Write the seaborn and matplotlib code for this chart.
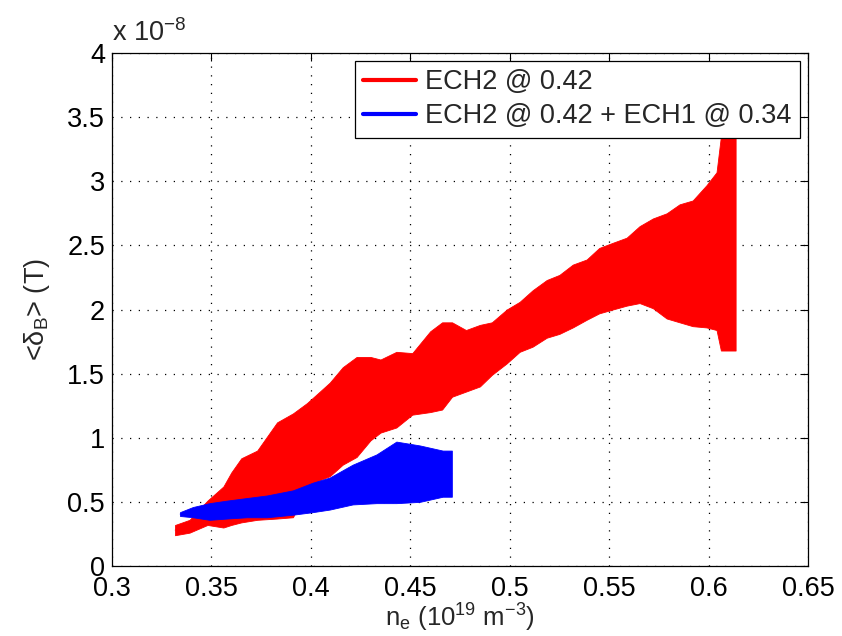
import numpy as np
import pandas as pd
import matplotlib
matplotlib.use("Agg")
import matplotlib.pyplot as plt
import seaborn as sns
from matplotlib.ticker import FuncFormatter

# ---- data (y in units of 1e-8 T) ----
red_label = "ECH2 @ 0.42"
red_x = [0.3317, 0.339, 0.348, 0.356, 0.360, 0.365, 0.373, 0.383, 0.391, 0.398,
         0.4045, 0.4095, 0.416, 0.423, 0.430, 0.435, 0.443, 0.451, 0.460, 0.466,
         0.471, 0.478, 0.485, 0.491, 0.4985, 0.505, 0.5115, 0.5186, 0.525, 0.5317,
         0.5387, 0.545, 0.5518, 0.5588, 0.5653, 0.572, 0.5789, 0.5854, 0.592, 0.599,
         0.604, 0.6062, 0.6136]
red_hi = [0.32, 0.36, 0.51, 0.62, 0.73, 0.84, 0.90, 1.12, 1.19, 1.27,
          1.36, 1.43, 1.55, 1.63, 1.63, 1.61, 1.67, 1.66, 1.83, 1.90,
          1.90, 1.84, 1.88, 1.90, 2.00, 2.06, 2.15, 2.23, 2.27, 2.35,
          2.39, 2.48, 2.52, 2.56, 2.65, 2.71, 2.75, 2.82, 2.85, 2.97,
          3.07, 3.35, 3.35]
red_lo = [0.24, 0.26, 0.32, 0.30, 0.32, 0.34, 0.36, 0.37, 0.38, 0.59,
          0.67, 0.70, 0.79, 0.85, 0.98, 1.04, 1.08, 1.18, 1.20, 1.22,
          1.32, 1.36, 1.40, 1.49, 1.58, 1.67, 1.71, 1.78, 1.81, 1.86,
          1.92, 1.97, 2.00, 2.03, 2.05, 2.01, 1.93, 1.90, 1.87, 1.86,
          1.84, 1.68, 1.68]

blue_label = "ECH2 @ 0.42 + ECH1 @ 0.34"
blue_x = [0.3342, 0.3407, 0.349, 0.3578, 0.3678, 0.3779, 0.391, 0.401, 0.4095,
          0.421, 0.433, 0.443, 0.4548, 0.4663, 0.4709]
blue_hi = [0.42, 0.46, 0.49, 0.51, 0.53, 0.55, 0.59, 0.65, 0.69,
           0.79, 0.87, 0.97, 0.94, 0.90, 0.90]
blue_lo = [0.39, 0.38, 0.36, 0.37, 0.38, 0.38, 0.40, 0.42, 0.44,
           0.48, 0.49, 0.49, 0.50, 0.54, 0.54]

x_ticks = [0.3, 0.35, 0.4, 0.45, 0.5, 0.55, 0.6, 0.65]
y_ticks = [0, 0.5, 1, 1.5, 2, 2.5, 3, 3.5, 4]

# ---- style ----
sns.set_style("white")
plt.rcParams["font.family"] = ["Liberation Sans", "DejaVu Sans"]
plt.rcParams["mathtext.fontset"] = "custom"
plt.rcParams["mathtext.rm"] = "Liberation Sans"
plt.rcParams["mathtext.it"] = "Liberation Sans"
plt.rcParams["mathtext.default"] = "regular"
FS = 19.5

fig = plt.figure(figsize=(8.42, 6.36), dpi=100)
ax = fig.add_axes([112/842, 70/636, 696/842, 513/636])

rows = []
for name, xs, lo, hi in [(red_label, red_x, red_lo, red_hi),
                         (blue_label, blue_x, blue_lo, blue_hi)]:
    for xv, l, h in zip(xs, lo, hi):
        rows.append({"series": name, "x": xv, "lo": l, "hi": h, "mid": (l + h) / 2})
df = pd.DataFrame(rows)

palette = {red_label: "#ff0000", blue_label: "#0000ff"}
for name in [red_label, blue_label]:
    d = df[df.series == name]
    ax.fill_between(d.x, d.lo, d.hi, color=palette[name], lw=0.6,
                    edgecolor=palette[name], zorder=2)

sns.lineplot(data=df, x="x", y="mid", hue="series", palette=palette,
             linewidth=0.5, ax=ax, legend=True, zorder=1, estimator=None, sort=False)

ax.set_xlim(0.3, 0.65)
ax.set_ylim(0, 4)
ax.set_xticks(x_ticks)
ax.set_yticks(y_ticks)
ax.xaxis.set_major_formatter(FuncFormatter(lambda v, p: f"{v:g}"))
ax.yaxis.set_major_formatter(FuncFormatter(lambda v, p: f"{v:g}"))
ax.tick_params(direction="in", length=6, width=0.8, top=True, right=True,
               labelsize=FS, colors="black")
ax.tick_params(axis="x", pad=7)
ax.tick_params(axis="y", pad=5)
ax.grid(True, color="black", linestyle=(0, (1, 6)), linewidth=0.9)
for s in ax.spines.values():
    s.set_color("black")
    s.set_linewidth(0.9)

ax.set_xlabel(r"n$_e$ (10$^{19}$ m$^{-3}$)", fontsize=18.5, labelpad=0)
ax.set_ylabel(r"<δ$_B$> (T)", fontsize=FS, labelpad=11)
ax.text(0.0, 1.012, r"x 10$^{-8}$", transform=ax.transAxes, ha="left",
        va="bottom", fontsize=FS)

leg = ax.legend(loc="upper right", fontsize=FS, frameon=True, fancybox=False,
                edgecolor="black", framealpha=1, borderaxespad=0.3,
                handlelength=1.95, labelspacing=0.3, borderpad=0.3,
                handletextpad=0.35)
leg.get_frame().set_linewidth(0.9)
for line in leg.get_lines():
    line.set_linewidth(3)

fig.savefig("out.png", dpi=100)
